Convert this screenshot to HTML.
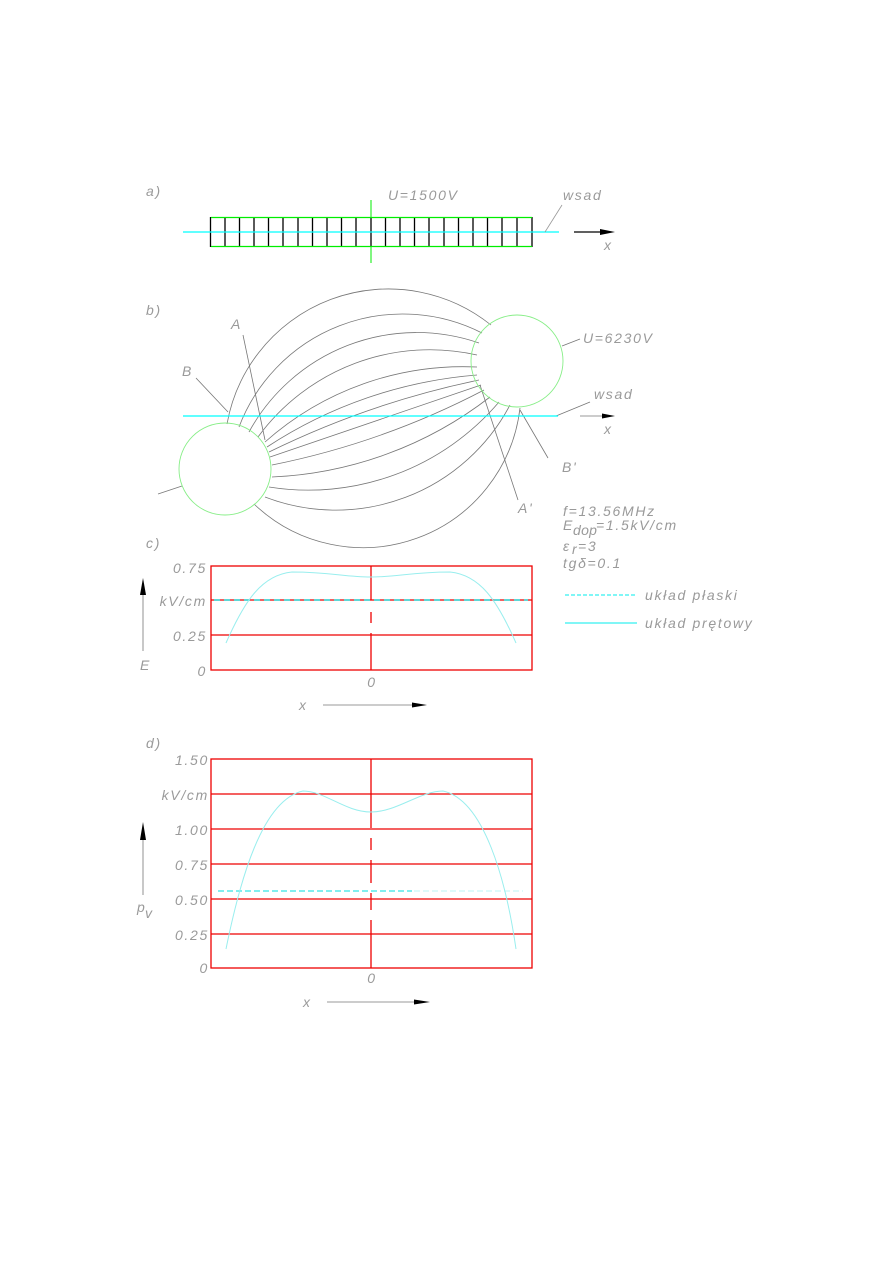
<!DOCTYPE html>
<html><head><meta charset="utf-8"><style>
html,body{margin:0;padding:0;background:#fff;}
svg{display:block;}
text{font-family:"Liberation Sans",sans-serif;font-style:italic;fill:#9a9a9a;font-size:14px;letter-spacing:1.7px;}
</style></head><body>
<svg width="893" height="1263" viewBox="0 0 893 1263" xmlns="http://www.w3.org/2000/svg">
<!-- a -->
<text x="146" y="196">a)</text>
<text x="388" y="200">U=1500V</text>
<text x="563" y="200">wsad</text>
<line x1="371" y1="200" x2="371" y2="263" stroke="#00ee00" stroke-width="1"/>
<g stroke="#000" stroke-width="1.3">
<line x1="210.5" y1="217" x2="210.5" y2="247"/><line x1="225" y1="217" x2="225" y2="247"/><line x1="239.5" y1="217" x2="239.5" y2="247"/><line x1="254" y1="217" x2="254" y2="247"/><line x1="268.5" y1="217" x2="268.5" y2="247"/><line x1="283" y1="217" x2="283" y2="247"/><line x1="298" y1="217" x2="298" y2="247"/><line x1="312.5" y1="217" x2="312.5" y2="247"/><line x1="327" y1="217" x2="327" y2="247"/><line x1="341.5" y1="217" x2="341.5" y2="247"/><line x1="356" y1="217" x2="356" y2="247"/><line x1="371" y1="217" x2="371" y2="247"/><line x1="385.5" y1="217" x2="385.5" y2="247"/><line x1="400" y1="217" x2="400" y2="247"/><line x1="414.5" y1="217" x2="414.5" y2="247"/><line x1="429" y1="217" x2="429" y2="247"/><line x1="444" y1="217" x2="444" y2="247"/><line x1="458.5" y1="217" x2="458.5" y2="247"/><line x1="473" y1="217" x2="473" y2="247"/><line x1="487.5" y1="217" x2="487.5" y2="247"/><line x1="502" y1="217" x2="502" y2="247"/><line x1="517" y1="217" x2="517" y2="247"/><line x1="532" y1="217" x2="532" y2="247"/>
</g>
<line x1="211" y1="217.5" x2="532" y2="217.5" stroke="#00ee00" stroke-width="1.3"/>
<line x1="211" y1="246.5" x2="532" y2="246.5" stroke="#00ee00" stroke-width="1.3"/>
<line x1="183" y1="232" x2="559" y2="232" stroke="#00ffff" stroke-width="1.3"/>
<line x1="545" y1="232" x2="562" y2="205" stroke="#999" stroke-width="0.8"/>
<line x1="574" y1="232" x2="602" y2="232" stroke="#000" stroke-width="1.3"/>
<polygon points="600,229 615,232 600,235" fill="#000"/>
<text x="604" y="250" font-size="12">x</text>

<!-- b -->
<text x="146" y="315">b)</text>
<g fill="none" stroke="#777" stroke-width="0.8">
<path d="M227,424 A164,164 0 0 1 491,325"/>
<path d="M239,427 A175,175 0 0 1 482,333"/>
<path d="M249,432 A191,191 0 0 1 479,343"/>
<path d="M258,437 A213,213 0 0 1 477,355"/>
<path d="M265,442 A298,298 0 0 1 477,367"/>
<path d="M267,447 A447,447 0 0 1 477,375"/>
<path d="M269,452 A883,883 0 0 1 479,380"/>
<path d="M270,457 L481,385"/>
<path d="M272,465 A794,794 0 0 0 484,390"/>
<path d="M272,477 A383,383 0 0 0 490,397"/>
<path d="M269,487 A250,250 0 0 0 499,402"/>
<path d="M265,497 A197,197 0 0 0 510,405"/>
<path d="M254,504 A158,158 0 0 0 520,408"/>
<line x1="243" y1="335" x2="265" y2="440"/>
<line x1="196" y1="378" x2="228" y2="412"/>
<line x1="480" y1="385" x2="518" y2="500"/>
<line x1="520" y1="410" x2="548" y2="458"/>
<line x1="562" y1="346" x2="580" y2="339"/>
<line x1="556" y1="416" x2="590" y2="402"/>
<line x1="158" y1="494" x2="182" y2="486"/>
</g>
<circle cx="225" cy="469" r="46" fill="none" stroke="#88ee88" stroke-width="0.9"/>
<circle cx="517" cy="361" r="46" fill="none" stroke="#88ee88" stroke-width="0.9"/>
<line x1="183" y1="416" x2="558" y2="416" stroke="#00ffff" stroke-width="1.3"/>
<line x1="580" y1="416" x2="604" y2="416" stroke="#777" stroke-width="0.8"/>
<polygon points="602,413.5 615,416 602,418.5" fill="#000"/>
<text x="604" y="434" font-size="12">x</text>
<text x="231" y="329">A</text>
<text x="182" y="376">B</text>
<text x="583" y="343">U=6230V</text>
<text x="594" y="399">wsad</text>
<text x="562" y="472">B'</text>
<text x="518" y="513">A'</text>
<text x="563" y="516">f=13.56MHz</text>
<text x="563" y="530">E</text><text x="573" y="535" font-size="7" style="letter-spacing:0.3px">dop</text><text x="596" y="530">=1.5kV/cm</text>
<text x="563" y="551">ε</text><text x="572" y="554" font-size="8">r</text><text x="578" y="551">=3</text>
<text x="563" y="568">tgδ=0.1</text>
<line x1="565" y1="595" x2="637" y2="595" stroke="#00eeee" stroke-width="1" stroke-dasharray="4,2"/>
<text x="645" y="600">układ  płaski</text>
<line x1="565" y1="623" x2="637" y2="623" stroke="#00eeee" stroke-width="1"/>
<text x="645" y="628">układ  prętowy</text>

<!-- c -->
<text x="146" y="548">c)</text>
<g stroke="#ee0000" stroke-width="1.3" fill="none">
<rect x="211" y="566" width="321" height="104"/>
<line x1="211" y1="635" x2="532" y2="635"/>
<line x1="371" y1="566" x2="371" y2="600"/>
<line x1="371" y1="612" x2="371" y2="623"/>
<line x1="371" y1="633" x2="371" y2="670"/>
<line x1="211" y1="600" x2="532" y2="600"/>
</g>
<line x1="214" y1="600" x2="528" y2="600" stroke="#00e5e5" stroke-width="1.3" stroke-dasharray="6,4"/>
<path d="M226,643 C245,600 262,575 292,572 C330,572 345,577 371,577 C397,577 412,572 450,572 C480,575 497,600 516,643" fill="none" stroke="#99eeee" stroke-width="1"/>
<text x="207" y="573" text-anchor="end">0.75</text>
<text x="207" y="606" text-anchor="end">kV/cm</text>
<text x="207" y="641" text-anchor="end">0.25</text>
<text x="207" y="676" text-anchor="end">0</text>
<text x="372" y="687" text-anchor="middle">0</text>
<line x1="143" y1="651" x2="143" y2="592" stroke="#777" stroke-width="0.8"/>
<polygon points="140,595 143,578 146,595" fill="#000"/>
<text x="140" y="670">E</text>
<text x="299" y="710">x</text>
<line x1="323" y1="705" x2="414" y2="705" stroke="#777" stroke-width="0.8"/>
<polygon points="412,702.5 427,705 412,707.5" fill="#000"/>

<!-- d -->
<text x="146" y="748">d)</text>
<g stroke="#ee0000" stroke-width="1.3" fill="none">
<rect x="211" y="759" width="321" height="209"/>
<line x1="211" y1="794" x2="532" y2="794"/>
<line x1="211" y1="829" x2="532" y2="829"/>
<line x1="211" y1="864" x2="532" y2="864"/>
<line x1="211" y1="899" x2="532" y2="899"/>
<line x1="211" y1="934" x2="532" y2="934"/>
<line x1="371" y1="759" x2="371" y2="828"/>
<line x1="371" y1="838" x2="371" y2="850"/>
<line x1="371" y1="860" x2="371" y2="883"/>
<line x1="371" y1="893" x2="371" y2="910"/>
<line x1="371" y1="920" x2="371" y2="968"/>
</g>
<line x1="218" y1="891" x2="412" y2="891" stroke="#00dddd" stroke-width="1" stroke-dasharray="6,3"/>
<line x1="414" y1="891" x2="523" y2="891" stroke="#bbf5f5" stroke-width="1" stroke-dasharray="6,3"/>
<path d="M226,949 C240,880 262,800 303,791 C325,791 345,812 371,812 C397,812 420,791 443,791 C484,800 506,880 516,949" fill="none" stroke="#99eeee" stroke-width="1"/>
<text x="209" y="765" text-anchor="end">1.50</text>
<text x="209" y="800" text-anchor="end">kV/cm</text>
<text x="209" y="835" text-anchor="end">1.00</text>
<text x="209" y="870" text-anchor="end">0.75</text>
<text x="209" y="905" text-anchor="end">0.50</text>
<text x="209" y="940" text-anchor="end">0.25</text>
<text x="209" y="973" text-anchor="end">0</text>
<text x="372" y="983" text-anchor="middle">0</text>
<line x1="143" y1="895" x2="143" y2="836" stroke="#777" stroke-width="0.8"/>
<polygon points="140,840 143,822 146,840" fill="#000"/>
<text x="137" y="912">p</text><text x="145" y="918" font-size="9">v</text>
<text x="303" y="1007">x</text>
<line x1="327" y1="1002" x2="416" y2="1002" stroke="#777" stroke-width="0.8"/>
<polygon points="414,999.5 430,1002 414,1004.5" fill="#000"/>
</svg>
</body></html>
